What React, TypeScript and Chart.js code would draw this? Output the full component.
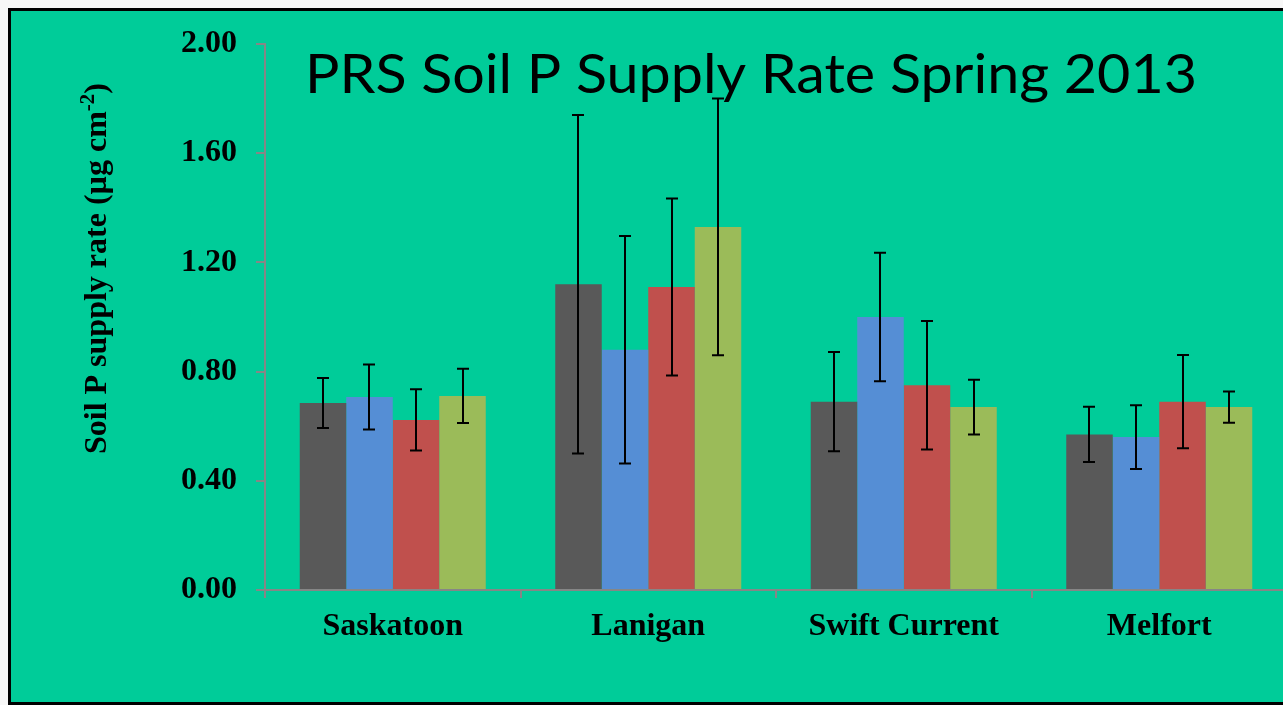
import React, { useEffect, useRef } from "react";
import { Chart, registerables } from "chart.js";

Chart.register(...registerables);

const categories = ["Saskatoon", "Lanigan", "Swift Current", "Melfort"];
const seriesLabels = ["Series 1", "Series 2", "Series 3", "Series 4"];
const seriesColors = ["#595959", "#558ED5", "#C0504D", "#9BBB59"];
const series1Values = [0.685, 1.12, 0.69, 0.57];
const series1Errors = [0.092, 0.62, 0.182, 0.101];
const series2Values = [0.707, 0.88, 1.0, 0.56];
const series2Errors = [0.119, 0.417, 0.235, 0.117];
const series3Values = [0.623, 1.11, 0.75, 0.69];
const series3Errors = [0.112, 0.324, 0.235, 0.171];
const series4Values = [0.711, 1.33, 0.67, 0.67];
const series4Errors = [0.099, 0.47, 0.1, 0.057];
const yTickStep = 0.4;
const yMin = 0;
const yMax = 2.0;
const titleText = "PRS Soil P Supply Rate Spring 2013";
const yTitleMain = "Soil P supply rate (µg cm";
const yTitleSup = "-2";
const yTitleEnd = ")";

const allValues = [series1Values, series2Values, series3Values, series4Values];
const allErrors = [series1Errors, series2Errors, series3Errors, series4Errors];

const serif = "'Liberation Serif', 'Times New Roman', serif";

const errorBarPlugin = {
  id: "errorBars",
  afterDatasetsDraw(chart: any) {
    const ctx = chart.ctx;
    const yScale = chart.scales.y;
    ctx.save();
    ctx.strokeStyle = "#000";
    ctx.lineWidth = 2;
    chart.data.datasets.forEach((ds: any, i: number) => {
      const meta = chart.getDatasetMeta(i);
      const errs = ds.errors as number[];
      meta.data.forEach((bar: any, j: number) => {
        const v = ds.data[j];
        const e = errs[j];
        const x = Math.round(bar.x);
        const yT = yScale.getPixelForValue(v + e);
        const yB = yScale.getPixelForValue(v - e);
        ctx.beginPath();
        ctx.moveTo(x, yT);
        ctx.lineTo(x, yB);
        ctx.moveTo(x - 6, yT);
        ctx.lineTo(x + 6, yT);
        ctx.moveTo(x - 6, yB);
        ctx.lineTo(x + 6, yB);
        ctx.stroke();
      });
    });
    ctx.restore();
  },
};

const textPlugin = {
  id: "texts",
  beforeDatasetsDraw(chart: any) {
    const ctx = chart.ctx;
    ctx.save();
    ctx.fillStyle = "#000";
    ctx.font = "54px Lato, 'Open Sans', sans-serif";
    ctx.textBaseline = "alphabetic";
    ctx.textAlign = "left";
    const tw = ctx.measureText(titleText).width;
    ctx.save();
    ctx.translate(294, 82);
    ctx.scale(892 / tw, 1);
    ctx.fillText(titleText, 0, 0);
    ctx.restore();

    ctx.translate(95, 257.5);
    ctx.rotate(-Math.PI / 2);
    const mainFont = "bold 32px " + serif;
    const supFont = "bold 21px " + serif;
    ctx.font = mainFont;
    const w1 = ctx.measureText(yTitleMain).width;
    const w3 = ctx.measureText(yTitleEnd).width;
    ctx.font = supFont;
    const w2 = ctx.measureText(yTitleSup).width;
    const total = w1 + w2 + w3;
    let x0 = -total / 2;
    ctx.font = mainFont;
    ctx.fillText(yTitleMain, x0, 0);
    x0 += w1;
    ctx.font = supFont;
    ctx.fillText(yTitleSup, x0, -12);
    x0 += w2;
    ctx.font = mainFont;
    ctx.fillText(yTitleEnd, x0, 0);
    ctx.restore();
  },
};

export default function App() {
  const ref = useRef<HTMLCanvasElement | null>(null);
  useEffect(() => {
    if (!ref.current) return;
    const chart = new Chart(ref.current, {
      type: "bar",
      data: {
        labels: categories,
        datasets: allValues.map((vals, i) => ({
          label: seriesLabels[i],
          data: vals,
          errors: allErrors[i],
          backgroundColor: seriesColors[i],
          borderWidth: 0,
          categoryPercentage: 0.728,
          barPercentage: 1.0,
        })) as any,
      },
      options: {
        animation: false,
        responsive: false,
        devicePixelRatio: 1,
        layout: { padding: { left: 0, top: 33, right: 24, bottom: 32 } },
        plugins: {
          legend: { display: false },
          title: { display: false },
          tooltip: { enabled: false },
        },
        scales: {
          x: {
            grid: {
              offset: true,
              drawOnChartArea: false,
              tickLength: 8,
              color: "#868686",
              lineWidth: 2,
            },
            border: { color: "#868686", width: 2 },
            ticks: {
              color: "#000",
              font: { family: serif, size: 32, weight: "bold" },
              padding: 10,
              maxRotation: 0,
            },
            afterFit: (s: any) => {
              s.height = 80;
              s.paddingLeft = 0;
              s.paddingRight = 0;
            },
          },
          y: {
            min: yMin,
            max: yMax,
            grid: {
              drawOnChartArea: false,
              tickLength: 9,
              color: "#868686",
              lineWidth: 2,
            },
            border: { color: "#868686", width: 2 },
            ticks: {
              stepSize: yTickStep,
              color: "#000",
              font: { family: serif, size: 32, weight: "bold" },
              padding: 19,
              callback: (v: any) => Number(v).toFixed(2),
            },
            afterFit: (s: any) => {
              s.width = 254;
              s.paddingTop = 0;
              s.paddingBottom = 0;
            },
          },
        },
      } as any,
      plugins: [textPlugin, errorBarPlugin],
    });
    return () => chart.destroy();
  }, []);

  return (
    <>
      <style>{`html,body{overflow:hidden;background:#f7f7f7;}`}</style>
      <div
        style={{
          position: "fixed",
          left: 8,
          top: 8,
          width: 1400,
          height: 697,
          border: "3px solid #000",
          boxSizing: "border-box",
          background: "#00CC99",
          overflow: "hidden",
        }}
      >
        <canvas ref={ref} width={1300} height={691} style={{ display: "block" }} />
      </div>
    </>
  );
}
